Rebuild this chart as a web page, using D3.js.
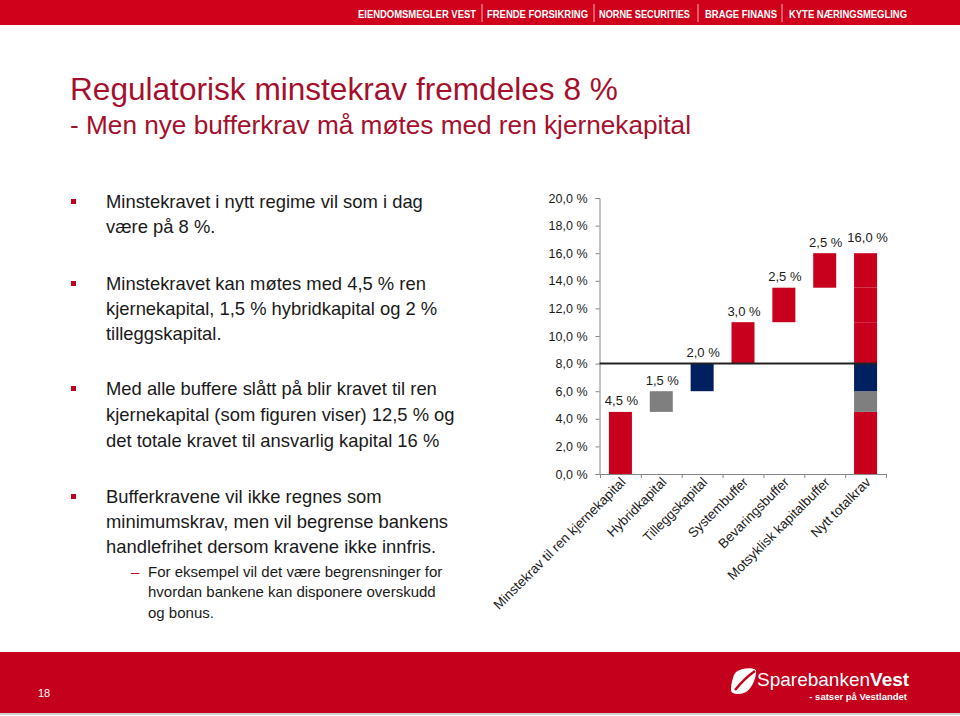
<!DOCTYPE html>
<html>
<head>
<meta charset="utf-8">
<script src="https://cdn.jsdelivr.net/npm/d3@7"></script>
<style>
  html, body { margin: 0; padding: 0; background: #ffffff; }
  svg { display: block; }
  text { font-family: "Liberation Sans", Arial, sans-serif; }
</style>
</head>
<body>
<svg id="page" width="960" height="716"></svg>
<script>
// ---------- DATA ----------
const categories = ["Minstekrav til ren kjernekapital", "Hybridkapital", "Tilleggskapital",
  "Systembuffer", "Bevaringsbuffer", "Motsyklisk kapitalbuffer", "Nytt totalkrav"];
const values = [4.5, 1.5, 2.0, 3.0, 2.5, 2.5, 16.0];
const bases = [0, 4.5, 6.0, 8.0, 11.0, 13.5, 0];
const kinds = ["core", "hybrid", "tier2", "buffer", "buffer", "buffer", "total"];
const yTicks = [0, 2, 4, 6, 8, 10, 12, 14, 16, 18, 20];
const minimumRequirement = 8;

const headerItems = ["EIENDOMSMEGLER VEST", "FRENDE FORSIKRING", "NORNE SECURITIES", "BRAGE FINANS", "KYTE NÆRINGSMEGLING"];
const titleText = "Regulatorisk minstekrav fremdeles 8 %";
const subtitleText = "- Men nye bufferkrav må møtes med ren kjernekapital";
const bullets = [
  ["Minstekravet i nytt regime vil som i dag", "være på 8 %."],
  ["Minstekravet kan møtes med 4,5 % ren", "kjernekapital, 1,5 % hybridkapital og 2 %", "tilleggskapital."],
  ["Med alle buffere slått på blir kravet til ren", "kjernekapital (som figuren viser) 12,5 % og", "det totale kravet til ansvarlig kapital 16 %"],
  ["Bufferkravene vil ikke regnes som", "minimumskrav, men vil begrense bankens", "handlefrihet dersom kravene ikke innfris."]
];
const subBullet = ["For eksempel vil det være begrensninger for", "hvordan bankene kan disponere overskudd", "og bonus."];
const pageNumber = "18";

// ---------- STYLE ----------
const colors = { core: "#c8001e", hybrid: "#7f7f7f", tier2: "#002060", buffer: "#c8001e" };
const svg = d3.select("#page");

// Header bar
svg.append("rect").attr("x", 0).attr("y", 0).attr("width", 960).attr("height", 25).attr("fill", "#d0021b");
const headerPos = [[358, 476], [487, 588], [599, 690], [705, 777], [789, 907]];
const headerSeps = [482, 594, 698, 782];
headerItems.forEach((t, i) => {
  svg.append("text").attr("x", headerPos[i][0]).attr("y", 17.5)
    .attr("textLength", headerPos[i][1] - headerPos[i][0]).attr("lengthAdjust", "spacingAndGlyphs")
    .attr("font-size", 11).attr("font-weight", "bold").attr("fill", "#fff").text(t);
});
headerSeps.forEach(x => svg.append("line").attr("x1", x).attr("x2", x).attr("y1", 4).attr("y2", 22)
  .attr("stroke", "#f3b0b8").attr("stroke-width", 1));

// Title
svg.append("text").attr("x", 70).attr("y", 100).attr("font-size", 31.6).attr("fill", "#a50f2d").text(titleText);
svg.append("text").attr("x", 70).attr("y", 134).attr("font-size", 26.2).attr("fill", "#a50f2d").text(subtitleText);

// Bullets
const bulletBaselines = [[207.5, 232.5], [289.5, 314.5, 339.5], [394.5, 420.5, 446.5], [502.5, 527.5, 552.5]];
bullets.forEach((lines, bi) => {
  svg.append("rect").attr("x", 71).attr("y", bulletBaselines[bi][0] - 8.5).attr("width", 5).attr("height", 5).attr("fill", "#c00020");
  lines.forEach((ln, li) => {
    svg.append("text").attr("x", 106).attr("y", bulletBaselines[bi][li]).attr("font-size", 18.4).attr("fill", "#1a1a1a").text(ln);
  });
});
const subBaselines = [577, 597, 618];
svg.append("text").attr("x", 131).attr("y", subBaselines[0]).attr("font-size", 15).attr("fill", "#c00020").text("–");
subBullet.forEach((ln, li) => {
  svg.append("text").attr("x", 148).attr("y", subBaselines[li]).attr("font-size", 15).attr("fill", "#1a1a1a").text(ln);
});

// ---------- CHART ----------
const y = d3.scaleLinear().domain([0, 20]).range([474, 198]);
const pIn = 0.437;
const x = d3.scaleBand().domain(categories).range([600, 886]).paddingInner(pIn).paddingOuter(pIn / 2);
const axisColor = "#868686";
const fmt = v => d3.format(".1f")(v).replace(".", ",") + " %";

const chart = svg.append("g");

// y axis
const yAxis = d3.axisLeft(y).tickValues(yTicks).tickFormat(fmt).tickSize(4).tickPadding(8);
const yg = chart.append("g").attr("transform", "translate(599.5,0)").call(yAxis);
yg.selectAll("path, line").attr("stroke", axisColor);
yg.selectAll("text").attr("font-size", 12.5).attr("fill", "#1a1a1a").attr("font-family", "Liberation Sans, Arial, sans-serif");

// x axis (ticks at band boundaries)
chart.append("line").attr("x1", 599.5).attr("x2", 886).attr("y1", y(0) + 0.5).attr("y2", y(0) + 0.5).attr("stroke", axisColor);
const boundaries = categories.map(c => x(c) - x.step() * pIn / 2).concat([x.range()[1]]);
chart.selectAll(".xtick").data(boundaries).enter().append("line")
  .attr("x1", d => d + 0.5).attr("x2", d => d + 0.5).attr("y1", y(0)).attr("y2", y(0) + 4).attr("stroke", axisColor);

// bars
const segments = [];
categories.forEach((c, i) => {
  if (kinds[i] === "total") {
    for (let j = 0; j < i; j++) segments.push({ cat: c, lo: bases[j], hi: bases[j] + values[j], kind: kinds[j] });
  } else {
    segments.push({ cat: c, lo: bases[i], hi: bases[i] + values[i], kind: kinds[i] });
  }
});
chart.selectAll(".seg").data(segments).enter().append("rect")
  .attr("x", d => x(d.cat)).attr("width", x.bandwidth())
  .attr("y", d => y(d.hi)).attr("height", d => y(d.lo) - y(d.hi))
  .attr("fill", d => colors[d.kind]);

// minimum requirement line
const lastCat = categories[categories.length - 1];
chart.append("line").attr("x1", 599.5).attr("x2", x(lastCat) + x.bandwidth())
  .attr("y1", y(minimumRequirement)).attr("y2", y(minimumRequirement))
  .attr("stroke", "#222").attr("stroke-width", 2);

// value labels
chart.selectAll(".vlab").data(categories).enter().append("text")
  .attr("x", (c, i) => x(c) + x.bandwidth() / 2 + (kinds[i] === "total" ? 2 : 1))
  .attr("y", (c, i) => y(bases[i] + values[i]) - (kinds[i] === "total" ? 15.5 : 11))
  .attr("dy", "0.35em").attr("text-anchor", "middle").attr("font-size", 13).attr("fill", "#1a1a1a")
  .text((c, i) => fmt(values[i]));

// category labels
chart.selectAll(".clab").data(categories).enter().append("text")
  .attr("transform", c => `translate(${x(c) + x.bandwidth() / 2 + 6},${y(0) + 9}) rotate(-45)`)
  .attr("text-anchor", "end").attr("font-size", 13.4).attr("fill", "#1a1a1a")
  .text(c => c);

// ---------- FOOTER ----------
svg.append("rect").attr("x", 0).attr("y", 652).attr("width", 960).attr("height", 61).attr("fill", "#c4001c");
svg.append("line").attr("x1", 0).attr("x2", 960).attr("y1", 714).attr("y2", 714).attr("stroke", "#cfcfcf").attr("stroke-width", 2);
svg.append("text").attr("x", 38).attr("y", 697).attr("font-size", 11).attr("fill", "#fff").text(pageNumber);
// logo mark
svg.append("path").attr("d", "M736,672 C741,668 752,667 756,670 C757,676 752,690 744,693 C738,695 731,694 731,690 C731,684 733,675 736,672 Z").attr("fill", "#fff");
svg.append("path").attr("d", "M735,690 C740,684 746,677 755,671").attr("stroke", "#c4001c").attr("stroke-width", 2.5).attr("fill", "none");
const logo = svg.append("text").attr("x", 757).attr("y", 686).attr("font-size", 19).attr("fill", "#fff");
logo.append("tspan").text("Sparebanken");
logo.append("tspan").attr("font-weight", "bold").text("Vest");
svg.append("text").attr("x", 907).attr("y", 700).attr("text-anchor", "end").attr("font-size", 9.5).attr("font-weight", "bold").attr("fill", "#fff").text("- satser på Vestlandet");
</script>
</body>
</html>
